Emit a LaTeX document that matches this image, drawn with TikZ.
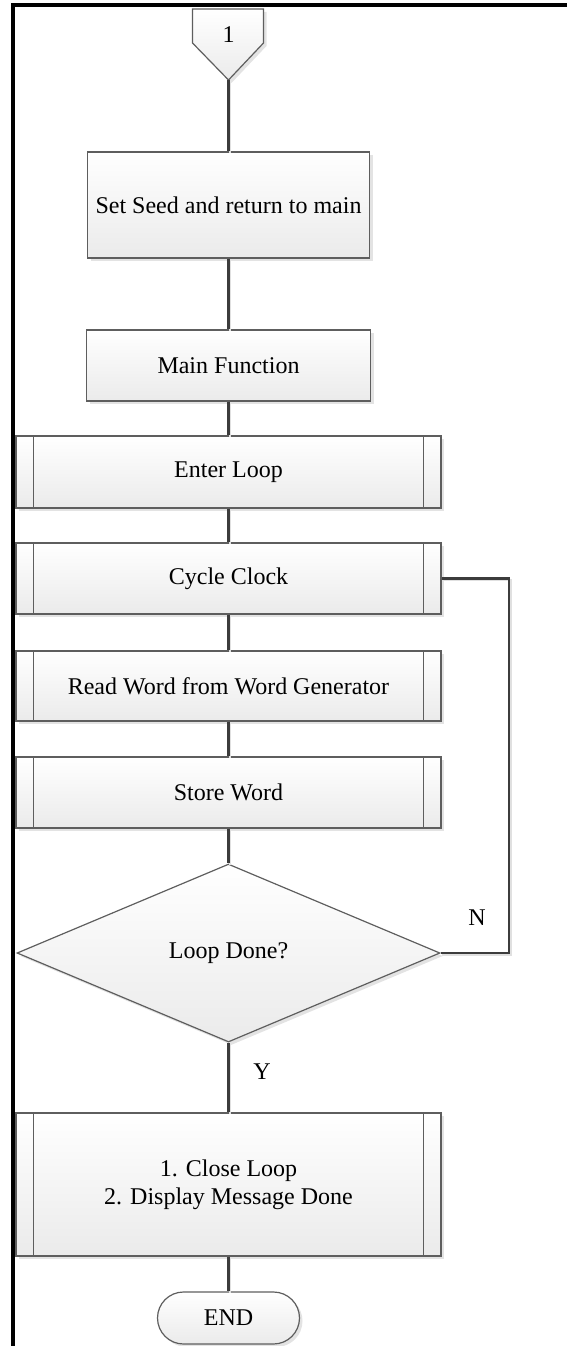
\documentclass[tikz,border=0pt]{standalone}
\usepackage{fontspec}
\setmainfont{Liberation Serif}
\usetikzlibrary{shapes.geometric,shadows}
\definecolor{edgegray}{HTML}{5E5E5E}
\definecolor{linkgray}{HTML}{3C3C3C}
\begin{document}
\begin{tikzpicture}[x=1pt,y=-1pt,
  every node/.style={font=\fontsize{24}{28}\selectfont},
  blockbase/.style={draw=edgegray, line width=1.2pt, top color=white, bottom color=black!8,
    drop shadow={shadow xshift=3pt, shadow yshift=-3pt, fill=black!11, opacity=1}},
  plainbox/.style={blockbase, rectangle, inner sep=0pt, minimum width=#1},
  subbox/.style={plainbox=#1},
  decision/.style={blockbase, diamond, inner sep=0pt, minimum width=423pt, minimum height=178pt},
  terminal/.style={blockbase, rectangle, rounded corners=26pt, inner sep=0pt,
    minimum width=142pt, minimum height=52pt},
  sideline/.style={draw=edgegray, line width=1.2pt},
  link/.style={draw=linkgray, line width=2.6pt,
    preaction={draw=black!12, line width=2.6pt, transform canvas={xshift=1.5pt, yshift=-1.5pt}}},
  frame/.style={draw=black, line width=4pt},
  tag/.style={inner sep=0pt}
]
\useasboundingbox (0,0) rectangle (567,1346);

% page frame (top and left rules)
\draw[frame] (600,5.5) -- (13,5.5) -- (13,1380);

% off-page connector
\path[blockbase] (192.5,9) -- (263.5,9) -- (263.5,43) -- (228.5,80) -- (192.5,43) -- cycle;
\node[tag] (off) at (228.5,35) {1};
\coordinate (offtip) at (228.5,80);

% process blocks
\node[plainbox=282pt, minimum height=106pt] (seed) at (228.5,205) {Set Seed and return to main};
\node[plainbox=284pt, minimum height=71pt] (mainf) at (228.5,365.5) {Main Function};
\node[subbox=425pt, minimum height=72pt] (enter) at (228.5,472) {Enter Loop};
\node[subbox=425pt, minimum height=71pt] (cycle) at (228.5,578.5) {Cycle Clock};
\node[subbox=425pt, minimum height=70pt] (read) at (228.5,686) {Read Word from Word Generator};
\node[subbox=425pt, minimum height=71pt] (store) at (228.5,792.5) {Store Word};
\node[decision] (done) at (228.5,953) {Loop Done?};
\node[subbox=425pt, minimum height=143pt, align=center] (final) at (228.5,1184.5)
  {1. Close Loop\\2. Display Message Done};
\node[terminal] (end) at (228.5,1318) {END};

% inner bars of the subprocess blocks
\foreach \n in {enter,cycle,read,store,final}{
  \draw[sideline] ([xshift=18pt]\n.north west) -- ([xshift=18pt]\n.south west);
  \draw[sideline] ([xshift=-18pt]\n.north east) -- ([xshift=-18pt]\n.south east);
}

% connectors
\draw[link] (offtip) -- (seed.north);
\draw[link] (seed.south) -- (mainf.north);
\draw[link] (mainf.south) -- (enter.north);
\draw[link] (enter.south) -- (cycle.north);
\draw[link] (cycle.south) -- (read.north);
\draw[link] (read.south) -- (store.north);
\draw[link] (store.south) -- (done.north);
\draw[link] (done.south) -- (final.north);
\draw[link] (final.south) -- (end.north);
\coordinate (loopback) at (509,760);
\draw[link] (done.east) -| (loopback) |- (cycle.east);

% branch labels
\node[tag] (nlabel) at (477,918) {N};
\node[tag] (ylabel) at (262,1072) {Y};
\end{tikzpicture}
\end{document}
